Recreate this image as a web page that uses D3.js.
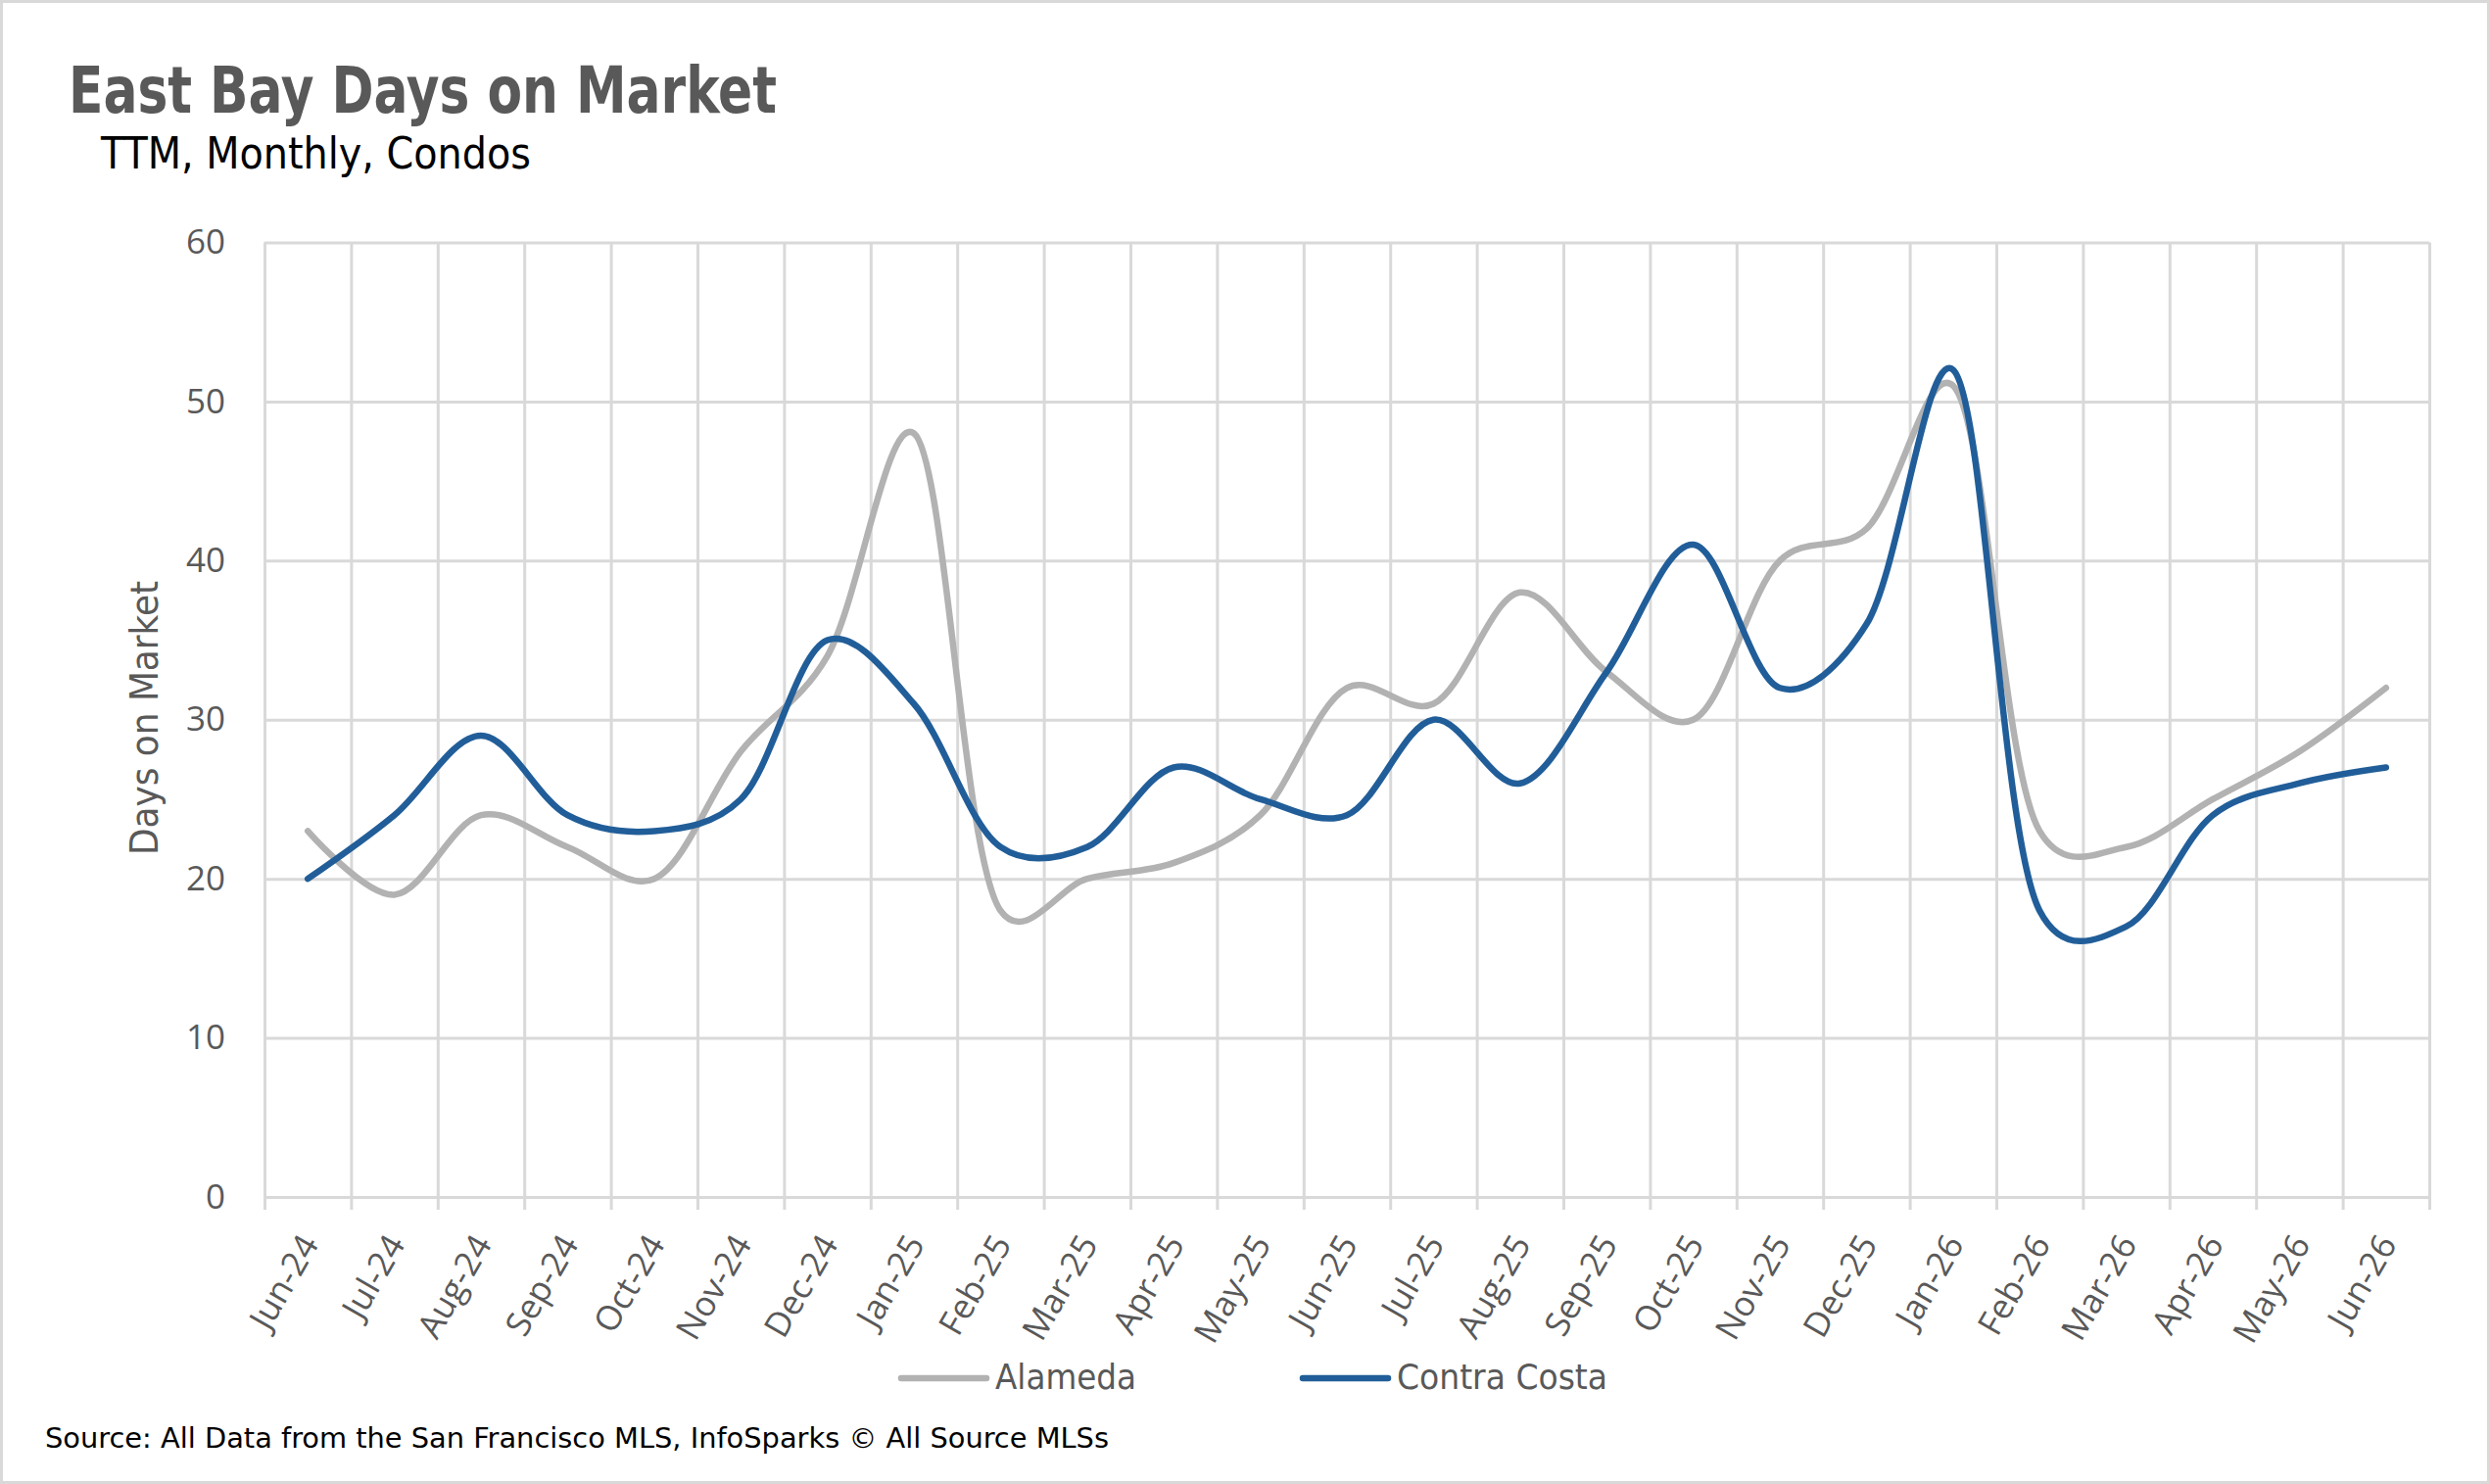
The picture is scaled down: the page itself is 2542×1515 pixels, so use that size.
<!DOCTYPE html>
<html lang="en">
  <head>
    <meta charset="UTF-8" />
    <title>East Bay Days on Market</title>
    <script src="https://cdn.jsdelivr.net/npm/d3@7"></script>
    <style>
      body { margin: 0; background: #fff; }
      .cond { font-family: "DejaVu Sans Condensed", "DejaVu Sans", sans-serif; font-stretch: condensed; }
      .tick text { font-family: "Open Sans", "DejaVu Sans", sans-serif; }
    </style>
  </head>
  <body>
    <svg width="2542" height="1515"></svg>
    <script>
      // data
      var months = ["Jun-24", "Jul-24", "Aug-24", "Sep-24", "Oct-24", "Nov-24", "Dec-24",
        "Jan-25", "Feb-25", "Mar-25", "Apr-25", "May-25", "Jun-25", "Jul-25", "Aug-25",
        "Sep-25", "Oct-25", "Nov-25", "Dec-25", "Jan-26", "Feb-26", "Mar-26", "Apr-26",
        "May-26", "Jun-26"];
      var alameda = [23, 19, 24, 22, 20, 28, 34, 48, 18, 20, 21, 24, 32, 31, 38, 33, 30,
        40, 42, 51, 23, 22, 25, 28, 32];
      var contraCosta = [20, 24, 29, 24, 23, 25, 35, 31, 22, 22, 27, 25, 24, 30, 26, 33,
        41, 32, 36, 52, 18, 17, 24, 26, 27];
      var seriesNames = ["Alameda", "Contra Costa"];
      var yTicks = [0, 10, 20, 30, 40, 50, 60];

      var colors = { "Alameda": "#b2b2b2", "Contra Costa": "#215e99" };
      var series = [
        { name: seriesNames[0], values: alameda },
        { name: seriesNames[1], values: contraCosta }
      ];

      var W = 2542, H = 1515;
      var plot = { left: 270, right: 2480, top: 247.5, bottom: 1222 };

      const svg = d3.select("svg");

      // outer border
      svg.append("rect")
        .attr("x", 1.5).attr("y", 1.5)
        .attr("width", W - 3).attr("height", H - 3)
        .attr("fill", "#fff").attr("stroke", "#d9d9d9").attr("stroke-width", 3);

      // scales
      const x = d3.scaleBand().domain(months).range([plot.left, plot.right]);
      const xEdge = d3.scaleLinear().domain([0, months.length]).range([plot.left, plot.right]);
      const y = d3.scaleLinear().domain([0, 60]).range([plot.bottom, plot.top]);

      // horizontal gridlines + y labels
      const yAxis = svg.append("g")
        .attr("transform", `translate(${plot.left},0)`)
        .call(d3.axisLeft(y).tickValues(yTicks).tickSize(-(plot.right - plot.left)).tickPadding(40));
      yAxis.select(".domain").remove();
      yAxis.selectAll(".tick line").attr("stroke", "#d9d9d9").attr("stroke-width", 3);
      yAxis.selectAll(".tick text")
        .attr("fill", "#595959").attr("font-size", 35);

      // vertical gridlines between categories, with tick marks below the axis
      const xGrid = svg.append("g")
        .attr("transform", `translate(0,${plot.bottom + 13})`)
        .call(d3.axisBottom(xEdge).tickValues(d3.range(months.length + 1))
          .tickSize(-(plot.bottom + 13 - plot.top)).tickFormat(""));
      xGrid.select(".domain").remove();
      xGrid.selectAll(".tick line").attr("stroke", "#d9d9d9").attr("stroke-width", 3);

      // category labels
      const xAxis = svg.append("g")
        .attr("transform", `translate(0,${plot.bottom})`)
        .call(d3.axisBottom(x).tickSize(0));
      xAxis.select(".domain").remove();
      xAxis.selectAll(".tick text")
        .attr("fill", "#595959").attr("font-size", 35)
        .attr("y", 0).attr("dy", null)
        .attr("text-anchor", "end")
        .attr("transform", "translate(12,48) rotate(-60)");

      // smoothed lines
      const line = d3.line()
        .x((d, i) => x(months[i]) + x.bandwidth() / 2)
        .y(d => y(d))
        .curve(d3.curveCatmullRom.alpha(0.25));

      svg.append("g").selectAll("path")
        .data(series)
        .join("path")
        .attr("d", d => line(d.values))
        .attr("fill", "none")
        .attr("stroke", d => colors[d.name])
        .attr("stroke-width", 6.5)
        .attr("stroke-linecap", "round")
        .attr("stroke-linejoin", "round");

      // titles
      svg.append("text").attr("class", "cond")
        .attr("x", 70).attr("y", 115)
        .attr("font-size", 66).attr("font-weight", "bold").attr("fill", "#595959")
        .attr("textLength", 723).attr("lengthAdjust", "spacingAndGlyphs")
        .text("East Bay Days on Market");
      svg.append("text").attr("class", "cond")
        .attr("x", 103).attr("y", 172)
        .attr("font-size", 44).attr("fill", "#000")
        .attr("textLength", 439).attr("lengthAdjust", "spacingAndGlyphs")
        .text("TTM, Monthly, Condos");

      // y axis title
      svg.append("text").attr("class", "cond")
        .attr("transform", "translate(161,733) rotate(-90)")
        .attr("text-anchor", "middle")
        .attr("font-size", 39).attr("fill", "#595959")
        .attr("textLength", 280).attr("lengthAdjust", "spacingAndGlyphs")
        .text("Days on Market");

      // legend
      var legendX = [916, 1326];
      var legendW = [144, 215];
      const legend = svg.append("g").selectAll("g")
        .data(series)
        .join("g")
        .attr("transform", (d, i) => `translate(${legendX[i]},1407)`);
      legend.append("line")
        .attr("x1", 4).attr("x2", 91)
        .attr("stroke", d => colors[d.name])
        .attr("stroke-width", 6.5).attr("stroke-linecap", "round");
      legend.append("text").attr("class", "cond")
        .attr("x", 100).attr("y", 11)
        .attr("font-size", 36).attr("fill", "#595959")
        .attr("textLength", (d, i) => legendW[i]).attr("lengthAdjust", "spacingAndGlyphs")
        .text(d => d.name);

      // source note
      svg.append("text").attr("class", "cond")
        .attr("x", 46).attr("y", 1478)
        .attr("font-size", 28).attr("fill", "#000")
        .attr("textLength", 1086).attr("lengthAdjust", "spacingAndGlyphs")
        .text("Source: All Data from the San Francisco MLS, InfoSparks \u00a9 All Source MLSs");
    </script>
  </body>
</html>
